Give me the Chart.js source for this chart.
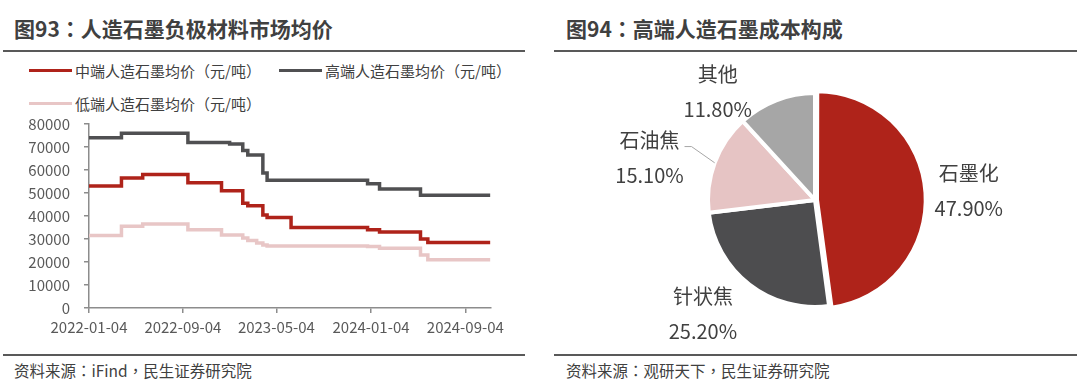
<!DOCTYPE html>
<html>
<head>
<meta charset="utf-8">
<script src="https://cdn.jsdelivr.net/npm/chart.js@4.4.1/dist/chart.umd.min.js"></script>
<style>
  body {
    margin: 0; width: 1080px; height: 386px; background: #fff;
    position: relative; overflow: hidden;
    font-family: "Noto Sans CJK SC", "Noto Sans", sans-serif; color: #404040;
  }
  .title { position: absolute; top: 14px; font-size: 21px; font-weight: bold; line-height: 28px; color: #404040; }
  .rule { position: absolute; height: 2px; background: #595959; }
  .source { position: absolute; top: 360px; font-size: 15.5px; line-height: 20px; color: #404040; }
  .p { font-family: "Noto Sans CJK TC", "Noto Sans CJK SC", sans-serif; }
  #legend {
    position: absolute; left: 29px; top: 54px;
    display: grid; grid-template-columns: 250px 250px; grid-auto-rows: 33px;
    align-items: center; font-size: 15px; color: #404040;
  }
  .item { display: flex; align-items: center; white-space: nowrap; }
  .swatch { width: 43px; height: 3.5px; margin-right: 3px; }
  canvas { position: absolute; }
</style>
</head>
<body>
<div class="title" style="left:14px">图93<span class="p">：</span>人造石墨负极材料市场均价</div>
<div class="title" style="left:566px">图94<span class="p">：</span>高端人造石墨成本构成</div>
<div class="rule" style="left:3px;width:522px;top:50px"></div>
<div class="rule" style="left:554px;width:523px;top:50px"></div>
<div id="legend"></div>
<canvas id="priceChart" style="left:0;top:101px" width="510" height="239"></canvas>
<canvas id="costChart" style="left:600px;top:55px" width="430" height="290"></canvas>
<div class="rule" style="left:3px;width:522px;top:354px"></div>
<div class="rule" style="left:554px;width:523px;top:354px"></div>
<div class="source" style="left:14px">资料来源<span class="p">：</span>iFind<span class="p">，</span>民生证券研究院</div>
<div class="source" style="left:566px">资料来源<span class="p">：</span>观研天下<span class="p">，</span>民生证券研究院</div>

<script>
/* Chart 93 - step price series (yuan / ton) */
const dates = [
  "2022-01-04", "2022-03-29", "2022-05-23", "2022-09-17", "2022-12-13",
  "2023-01-03", "2023-02-06", "2023-02-19", "2023-03-14", "2023-03-30",
  "2023-04-10", "2023-06-11", "2023-12-26", "2024-01-26", "2024-05-11",
  "2024-05-30", "2024-11-08",
];
const midPrice = [53000, 56500, 58000, 54500, 51000, 51000, 45500, 44500, 44500, 40400, 39300, 35000, 34000, 33000, 30000, 28500, 28500];
const highPrice = [74000, 76000, 76000, 72000, 72000, 71300, 68500, 66500, 66500, 58700, 55500, 55500, 54000, 51700, 49000, 49000, 49000];
const lowPrice = [31500, 35500, 36500, 34000, 31700, 31700, 30400, 29300, 28300, 27400, 27000, 27000, 26700, 26000, 23000, 21000, 21000];
const tickDates = ["2022-01-04", "2022-09-04", "2023-05-04", "2024-01-04", "2024-09-04"];
const seriesNames = ["中端人造石墨均价（元/吨）", "高端人造石墨均价（元/吨）", "低端人造石墨均价（元/吨）"];

/* Chart 94 - cost structure */
const pieLabels = ["石墨化", "针状焦", "石油焦", "其他"];
const pieValues = [47.9, 25.2, 15.1, 11.8];

const seriesColors = ["#AF231A", "#505052", "#E8C6C6"];
const pieColors = ["#AF231A", "#4D4D4F", "#E6C4C4", "#A6A6A6"];
const FONT = '"Noto Sans CJK SC", "Noto Sans", sans-serif';
const AXIS = "#8C8C8C";

const DAY = 86400000;
const t0 = Date.UTC(2022, 0, 4);
function dayOf(s) {
  const [y, m, d] = s.split("-").map(Number);
  return Math.round((Date.UTC(y, m - 1, d) - t0) / DAY);
}

// html legend
const legend = document.getElementById("legend");
seriesNames.forEach((name, i) => {
  const item = document.createElement("div");
  item.className = "item";
  item.innerHTML = `<span class="swatch" style="background:${seriesColors[i]}"></span><span>${name}</span>`;
  legend.appendChild(item);
});

Chart.defaults.font.family = FONT;
Chart.defaults.color = "#595959";

const seriesValues = [midPrice, highPrice, lowPrice];
const tickValues = tickDates.map(dayOf);

new Chart(document.getElementById("priceChart"), {
  type: "line",
  data: {
    datasets: seriesValues.map((vals, i) => ({
      label: seriesNames[i],
      data: dates.map((d, j) => ({ x: dayOf(d), y: vals[j] })),
      borderColor: seriesColors[i],
      borderWidth: 3.5,
      pointRadius: 0,
      stepped: true,
      fill: false,
    })),
  },
  options: {
    responsive: false,
    animation: false,
    layout: { padding: { top: 0, right: 19, left: 0, bottom: 0 } },
    plugins: { legend: { display: false }, tooltip: { enabled: false } },
    scales: {
      x: {
        type: "linear",
        min: 0,
        max: dayOf(dates[dates.length - 1]),
        afterBuildTicks: (scale) => {
          scale.ticks = tickValues.map((v) => ({ value: v }));
        },
        afterFit: (scale) => { scale.height = 32; },
        ticks: {
          autoSkip: false,
          maxRotation: 0,
          padding: 5,
          font: { size: 15 },
          color: "#595959",
          callback: (v) => tickDates[tickValues.indexOf(v)] ?? "",
        },
        grid: { drawOnChartArea: false, drawTicks: true, tickLength: 5, color: AXIS, lineWidth: 1.5 },
        border: { color: AXIS, width: 1.5 },
      },
      y: {
        min: 0,
        max: 80000,
        afterFit: (scale) => { scale.width = 89; },
        ticks: {
          stepSize: 10000,
          padding: 14,
          font: { size: 15 },
          color: "#595959",
          callback: (v) => String(v),
        },
        grid: { drawOnChartArea: false, drawTicks: true, tickLength: 5, color: AXIS, lineWidth: 1.5 },
        border: { color: AXIS, width: 1.5 },
      },
    },
  },
});

// label offsets around the pie (Excel best-fit style)
const labelNudge = [[-1, 1], [-17, -9], [-20, 12], [-41, 37]];

const pieLabelPlugin = {
  id: "pieLabels",
  afterDatasetsDraw(chart) {
    const ctx = chart.ctx;
    const meta = chart.getDatasetMeta(0);
    ctx.save();
    ctx.font = `20px ${FONT}`;
    ctx.fillStyle = "#404040";
    ctx.textAlign = "center";
    ctx.textBaseline = "middle";
    meta.data.forEach((arc, i) => {
      const p = arc.getProps(["x", "y", "startAngle", "endAngle", "outerRadius"], true);
      const mid = (p.startAngle + p.endAngle) / 2;
      const cx = p.x + Math.cos(mid) * p.outerRadius * 1.45 + labelNudge[i][0];
      const cy = p.y + Math.sin(mid) * p.outerRadius * 1.45 + labelNudge[i][1];
      ctx.fillText(pieLabels[i], cx, cy - 17.5);
      ctx.fillText(pieValues[i].toFixed(2) + "%", cx, cy + 17.5);

      // leader line for the small slice label
      if (i === 2) {
        const w = ctx.measureText(pieLabels[i]).width;
        const sx = cx + w / 2 + 5;
        const sy = cy - 17.5 + 6;
        ctx.beginPath();
        ctx.moveTo(sx, sy);
        ctx.lineTo(sx + 7, sy);
        ctx.lineTo(p.x + Math.cos(mid) * p.outerRadius, p.y + Math.sin(mid) * p.outerRadius);
        ctx.strokeStyle = "#A6A6A6";
        ctx.lineWidth = 1;
        ctx.stroke();
      }
    });
    ctx.restore();
  },
};

new Chart(document.getElementById("costChart"), {
  type: "pie",
  data: {
    labels: pieLabels,
    datasets: [{
      data: pieValues,
      backgroundColor: pieColors,
      borderColor: "#ffffff",
      borderWidth: 4,
      offset: [8, 0, 0, 0],
    }],
  },
  options: {
    responsive: false,
    animation: false,
    radius: 107,
    plugins: { legend: { display: false }, tooltip: { enabled: false } },
  },
  plugins: [pieLabelPlugin],
});
</script>
</body>
</html>
